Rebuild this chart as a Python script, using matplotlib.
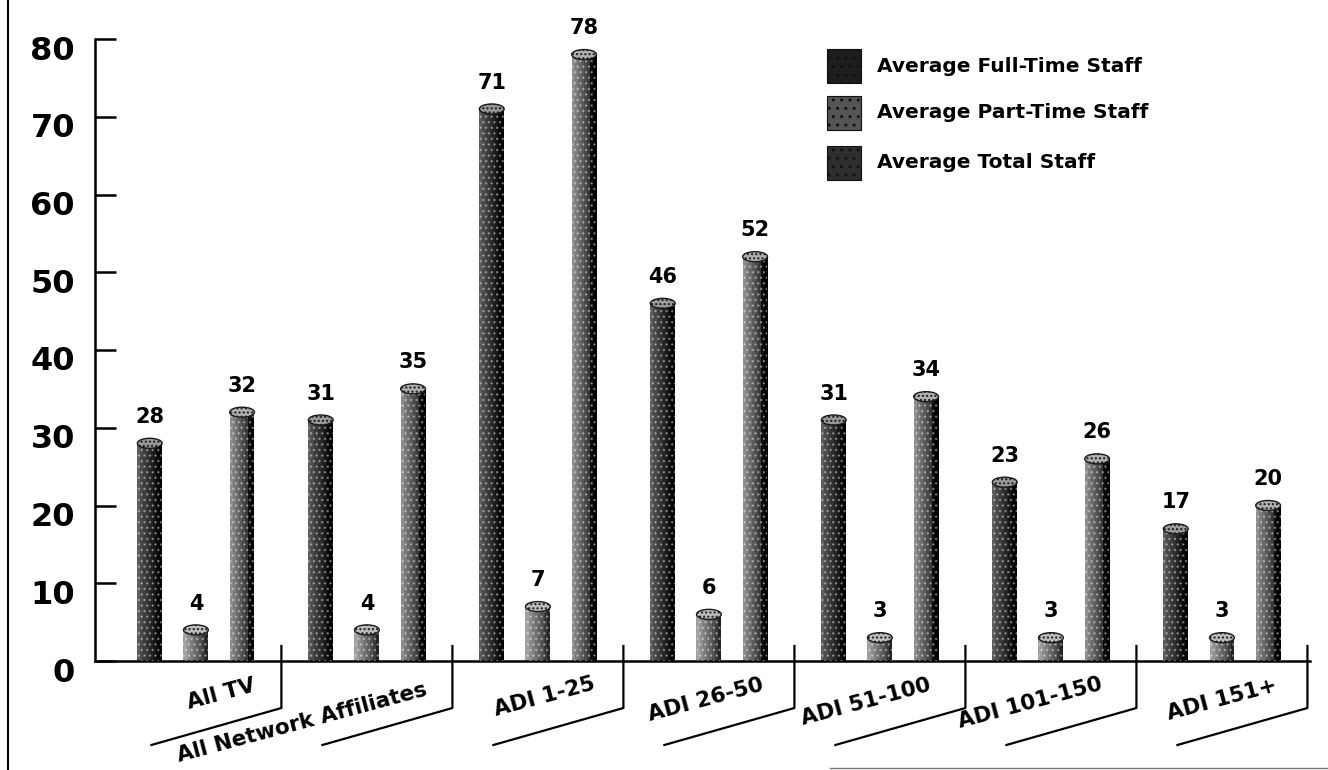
import matplotlib
matplotlib.use("Agg")
import matplotlib.pyplot as plt
from matplotlib.patches import Ellipse, Rectangle
from matplotlib.transforms import ScaledTranslation
from matplotlib.lines import Line2D
import numpy as np

# ---- data ----
categories = ["All TV", "All Network Affiliates", "ADI 1-25", "ADI 26-50",
              "ADI 51-100", "ADI 101-150", "ADI 151+"]
full_time = [28, 31, 71, 46, 31, 23, 17]
part_time = [4, 4, 7, 6, 3, 3, 3]
total_staff = [32, 35, 78, 52, 34, 26, 20]
series_names = ["Average Full-Time Staff", "Average Part-Time Staff", "Average Total Staff"]
y_ticks = [0, 10, 20, 30, 40, 50, 60, 70, 80]

FONT = "DejaVu Sans"
W, H = 1328, 770
fig = plt.figure(figsize=(W / 100, H / 100), dpi=100)
fig.patch.set_facecolor("white")

# axes: y axis at x=95 px, baseline at y=661 px, value 80 at y=39 px
ax_left, ax_right, ax_top, ax_bot = 95, 1310, 39, 661
ax = fig.add_axes([ax_left / W, (H - ax_bot) / H,
                   (ax_right - ax_left) / W, (ax_bot - ax_top) / H])
ax.set_facecolor("none")
ax.set_xlim(-0.59, 6.515)
ax.set_ylim(0, 80)

px_per_unit = (ax_bot - ax_top) / 80.0
x = np.arange(len(categories))
offset = 0.27
bar_w = 0.145

# shading across each cylinder: lighter on the left, black on the right
shades = {
    0: ["#5c5c5c", "#4a4a4a", "#3c3c3c", "#303030", "#232323", "#161616", "#080808", "#000000"],
    1: ["#a0a0a0", "#8e8e8e", "#7e7e7e", "#6e6e6e", "#606060", "#505050", "#3a3a3a", "#222222"],
    2: ["#8c8c8c", "#7a7a7a", "#6a6a6a", "#5a5a5a", "#4a4a4a", "#383838", "#0c0c0c", "#000000"],
}
cap_colors = ["#9a9a9a", "#bdbdbd", "#b0b0b0"]
all_series = [full_time, part_time, total_staff]
n_strips = 8
cap_h = 10 / px_per_unit

for s, vals in enumerate(all_series):
    xs = x + (s - 1) * offset
    sw = bar_w / n_strips
    for j in range(n_strips):
        ax.bar(xs + (j - (n_strips - 1) / 2) * sw, vals, width=sw * 1.02,
               color=shades[s][j], linewidth=0, zorder=2)
    # stipple texture over the body
    ax.bar(xs, vals, width=bar_w, color="none", hatch="...",
           edgecolor=(1, 1, 1, 0.35), linewidth=0, zorder=3)
    for xi, v in zip(xs, vals):
        ax.add_patch(Ellipse((xi, v), bar_w, cap_h, facecolor=cap_colors[s],
                             edgecolor="#1a1a1a", linewidth=1.0, hatch="....",
                             zorder=4))
        ax.annotate(str(v), (xi, v), xytext=(0, 19), textcoords="offset points",
                    ha="center", va="center", fontsize=15, fontweight="bold",
                    family=FONT, color="black", zorder=5)

# axes styling
for side in ("top", "right"):
    ax.spines[side].set_visible(False)
ax.spines["left"].set_linewidth(1.8)
ax.spines["bottom"].set_linewidth(1.8)
ax.set_xticks([])
ax.set_yticks(y_ticks)
ax.set_yticklabels([])
ax.tick_params(axis="y", direction="in", length=15, width=1.8)

ytrans = ax.get_yaxis_transform() + ScaledTranslation(-0.2, -0.12, fig.dpi_scale_trans)
for t in y_ticks:
    ax.text(0, t, str(t), transform=ytrans, ha="right", va="center",
            fontsize=23, fontweight="bold", family=FONT, color="black")

# group separators with slanted underlines
dy_top = 15 / px_per_unit
dy_bot = -47 / px_per_unit
slant_dx = 130 / 171.0
slant_dy = -37 / px_per_unit
for i in range(len(categories)):
    sx = i + 0.5
    ax.add_line(Line2D([sx, sx, sx - slant_dx], [dy_top, dy_bot, dy_bot + slant_dy],
                       color="black", linewidth=1.6, clip_on=False))

# category labels, rotated along the underline
label_pos = [(0.15, -4.3), (-0.38, -8.0), (0.04, -4.6), (-0.02, -5.0),
             (-0.08, -5.3), (-0.12, -5.4), (0.0, -5.0)]
for i, (name, (dx, ly)) in enumerate(zip(categories, label_pos)):
    ax.text(i + dx, ly, name, rotation=15, rotation_mode="anchor",
            ha="center", va="center", fontsize=15.5, fontweight="bold",
            family=FONT, color="black", clip_on=False)

# legend: square swatches with bold text
sw_colors = ["#1e1e1e", "#555555", "#2e2e2e"]
sw_y = [66, 113, 163]
for name, c, yc in zip(series_names, sw_colors, sw_y):
    fig.patches.append(Rectangle((827 / W, (H - yc - 17) / H), 34 / W, 34 / H,
                                 transform=fig.transFigure, facecolor=c,
                                 edgecolor="#111111", hatch="..",
                                 linewidth=0.8))
    fig.text(877 / W, (H - yc) / H, name, ha="left", va="center",
             fontsize=14.5, fontweight="bold", family=FONT, color="black")

# page border lines
fig.add_artist(Line2D([8 / W, 8 / W], [0, 1], color="black", linewidth=1.5,
                      transform=fig.transFigure))
fig.add_artist(Line2D([830 / W, 1], [2 / H, 2 / H], color="#777777",
                      linewidth=1.0, transform=fig.transFigure))

fig.savefig("out.png", dpi=100, facecolor="white")
